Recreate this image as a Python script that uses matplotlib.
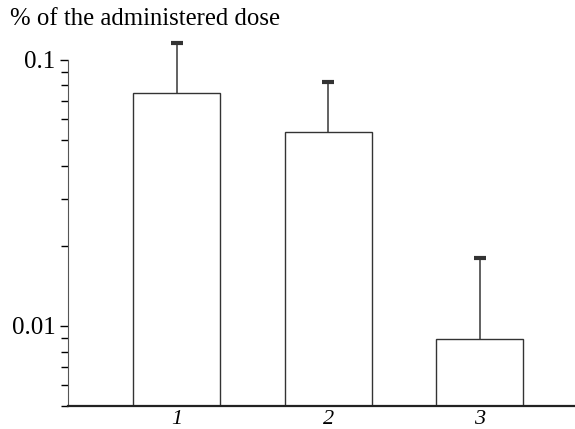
import numpy as np
import matplotlib.pyplot as plt
from matplotlib.ticker import LogLocator, NullFormatter, FixedFormatter, FixedLocator

groups = ["1", "2", "3"]
values = [0.0752, 0.0536, 0.00894]
upper_err = [0.0408, 0.029, 0.0090]
y_ticks = [0.01, 0.1]
y_tick_labels = ["0.01", "0.1"]

plt.rcParams["font.family"] = ["Liberation Serif", "DejaVu Serif"]

fig = plt.figure(figsize=(5.75, 4.29), dpi=100)
ax = fig.add_axes([0.118, 0.0536, 0.882, 0.878])

x = np.arange(1, len(groups) + 1)
tops = np.array(values) + np.array(upper_err)
ax.bar(x, values, width=0.576, color="white", edgecolor="#333333", linewidth=1.0, zorder=2)
ax.vlines(x, values, tops, color="#555555", linewidth=1.3, zorder=1)
ax.plot(x, tops, linestyle="none", marker="_", markersize=9, markeredgewidth=3,
        color="#333333", zorder=3)

ax.set_yscale("log")
ax.set_ylim(0.005, 0.13)
ax.set_xlim(0.28, 3.63)

ax.yaxis.set_major_locator(FixedLocator(y_ticks))
ax.yaxis.set_major_formatter(FixedFormatter(y_tick_labels))
ax.yaxis.set_minor_locator(LogLocator(base=10, subs=np.arange(2, 10)))
ax.yaxis.set_minor_formatter(NullFormatter())

ax.set_xticks(x)
ax.set_xticklabels(groups, fontstyle="italic", fontsize=16)
ax.tick_params(axis="x", length=0, pad=3)
ax.tick_params(axis="y", which="major", length=6, width=1, labelsize=18, pad=3)
ax.tick_params(axis="y", which="minor", length=5, width=1)

for side in ["top", "right"]:
    ax.spines[side].set_visible(False)
ax.spines["left"].set_bounds(0.005, 0.1)
ax.spines["left"].set_color("#555555")
ax.spines["bottom"].set_linewidth(1.6)
ax.spines["bottom"].set_color("#222222")

fig.text(0.017, 0.93, "% of the administered dose", fontsize=17.8, va="bottom", ha="left")

fig.savefig("out.png", dpi=100)
